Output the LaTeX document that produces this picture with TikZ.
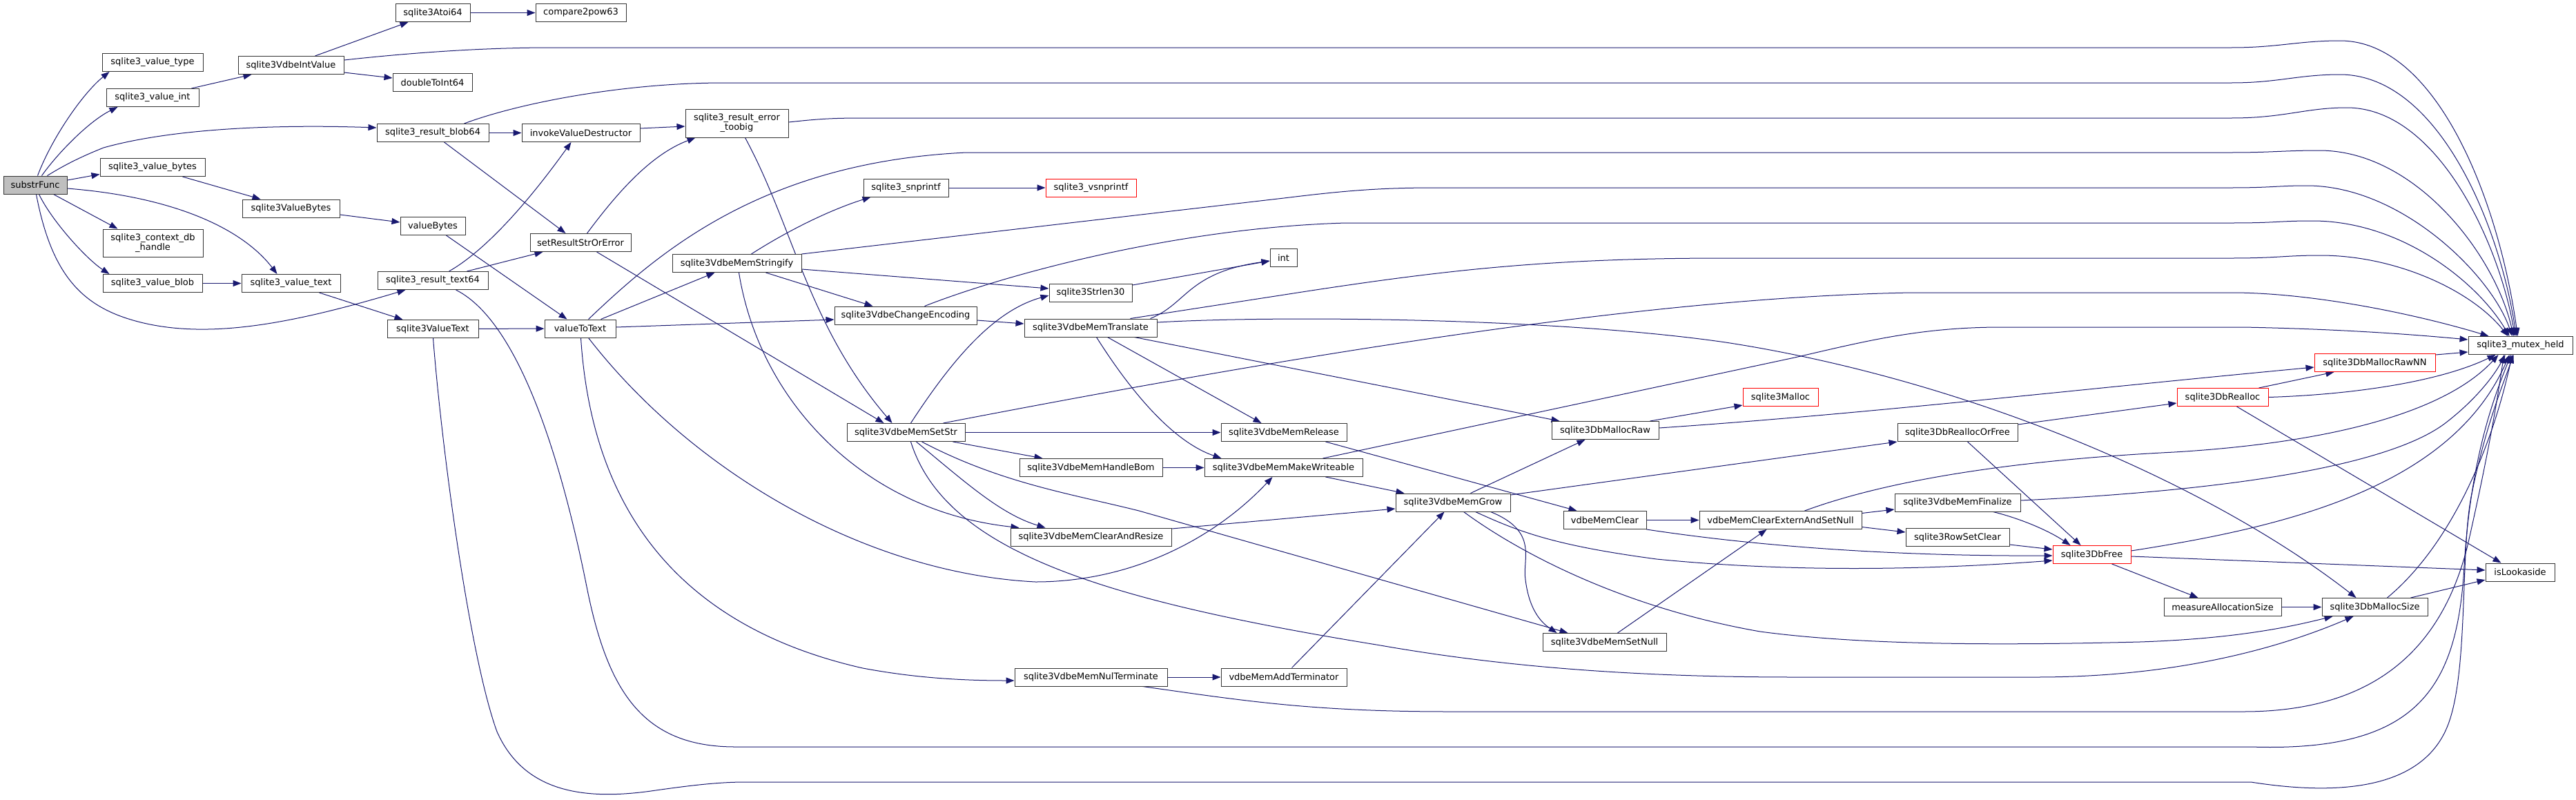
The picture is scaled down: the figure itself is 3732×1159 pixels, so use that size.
\documentclass[tikz,border=0pt]{standalone}
\usepackage{fontspec}
\setmainfont{DejaVu Sans}
\usetikzlibrary{arrows.meta,backgrounds}
\definecolor{navyc}{HTML}{191970}
\definecolor{rootgray}{HTML}{BFBFBF}
\definecolor{trunc}{HTML}{FF0000}
\definecolor{boxline}{HTML}{333333}
\tikzset{
 nbox/.style={draw=boxline, line width=1pt, fill=white, inner sep=0pt, minimum height=26, font=\fontsize{13}{14}\selectfont, align=center},
 redbox/.style={nbox, draw=trunc},
 rootbox/.style={nbox, fill=rootgray},
 conn/.style={draw=navyc, line width=1pt, -{Triangle[length=12pt,width=9pt]}},
}
\begin{document}
\begin{tikzpicture}[x=1pt,y=-1pt]
\useasboundingbox (0,0) rectangle (3732,1159);
% nodes
\node[rootbox, minimum width=92] (sf) at (51,268) {substrFunc};
\node[nbox, minimum width=146] (vtype) at (221,90.5) {sqlite3\_value\_type};
\node[nbox, minimum width=134] (vint) at (221,141.5) {sqlite3\_value\_int};
\node[nbox, minimum width=153] (intval) at (421.5,94.5) {sqlite3VdbeIntValue};
\node[nbox, minimum width=108] (atoi) at (627,18.5) {sqlite3Atoi64};
\node[nbox, minimum width=131] (cmp) at (841.5,18.5) {compare2pow63};
\node[nbox, minimum width=115] (dbl) at (626.5,119.5) {doubleToInt64};
\node[nbox, minimum width=162] (blob64) at (627,192.5) {sqlite3\_result\_blob64};
\node[nbox, minimum width=171] (ivd) at (841.5,192.5) {invokeValueDestructor};
\node[nbox, minimum width=149, minimum height=41] (toobig) at (1067.5,178.5) {sqlite3\_result\_error\\\_toobig};
\node[nbox, minimum width=152] (vbytes) at (221,242.5) {sqlite3\_value\_bytes};
\node[nbox, minimum width=141] (VBytes) at (421.5,302) {sqlite3ValueBytes};
\node[nbox, minimum width=94] (valueBytes) at (627,327.5) {valueBytes};
\node[nbox, minimum width=145, minimum height=40] (ctxdb) at (221.5,352) {sqlite3\_context\_db\\\_handle};
\node[nbox, minimum width=144] (vblob) at (221,410.5) {sqlite3\_value\_blob};
\node[nbox, minimum width=143] (vtext) at (421.5,410.5) {sqlite3\_value\_text};
\node[nbox, minimum width=160] (text64) at (627,406.5) {sqlite3\_result\_text64};
\node[nbox, minimum width=132] (VText) at (627,476.5) {sqlite3ValueText};
\node[nbox, minimum width=146] (srse) at (841,351.5) {setResultStrOrError};
\node[nbox, minimum width=103] (v2t) at (840.5,476) {valueToText};
\node[nbox, minimum width=187] (strfy) at (1067.5,381.5) {sqlite3VdbeMemStringify};
\node[nbox, minimum width=123] (snp) at (1312.5,272) {sqlite3\_snprintf};
\node[redbox, minimum width=131] (vsnp) at (1580.5,272) {sqlite3\_vsnprintf};
\node[nbox, minimum width=120] (strlen) at (1580,424) {sqlite3Strlen30};
\node[nbox, minimum width=39] (int) at (1859.5,373.5) {int};
\node[nbox, minimum width=206] (chenc) at (1312,457) {sqlite3VdbeChangeEncoding};
\node[nbox, minimum width=192] (trans) at (1580,475) {sqlite3VdbeMemTranslate};
\node[nbox, minimum width=171] (setstr) at (1312.5,626.5) {sqlite3VdbeMemSetStr};
\node[nbox, minimum width=182] (release) at (1860,626.5) {sqlite3VdbeMemRelease};
\node[nbox, minimum width=207] (bom) at (1580.5,677.5) {sqlite3VdbeMemHandleBom};
\node[nbox, minimum width=229] (mkw) at (1859.5,677.5) {sqlite3VdbeMemMakeWriteable};
\node[nbox, minimum width=233] (clr) at (1580.5,778) {sqlite3VdbeMemClearAndResize};
\node[nbox, minimum width=221] (nul) at (1580.5,981) {sqlite3VdbeMemNulTerminate};
\node[nbox, minimum width=182] (addt) at (1860,981) {vdbeMemAddTerminator};
\node[nbox, minimum width=155] (mraw) at (2325.5,623.5) {sqlite3DbMallocRaw};
\node[redbox, minimum width=109] (malloc) at (2579.5,575.5) {sqlite3Malloc};
\node[nbox, minimum width=166] (grow) at (2105,728) {sqlite3VdbeMemGrow};
\node[nbox, minimum width=120] (mclear) at (2325,753.5) {vdbeMemClear};
\node[nbox, minimum width=235] (extnull) at (2579.5,753.5) {vdbeMemClearExternAndSetNull};
\node[nbox, minimum width=179] (setnull) at (2324.5,930.5) {sqlite3VdbeMemSetNull};
\node[nbox, minimum width=174] (reof) at (2836,626.5) {sqlite3DbReallocOrFree};
\node[nbox, minimum width=182] (final) at (2836,728) {sqlite3VdbeMemFinalize};
\node[nbox, minimum width=150] (rowset) at (2836,778.5) {sqlite3RowSetClear};
\node[redbox, minimum width=113] (free) at (3030.5,803.5) {sqlite3DbFree};
\node[redbox, minimum width=132] (realloc) at (3220,575.5) {sqlite3DbRealloc};
\node[redbox, minimum width=175] (rawnn) at (3440.5,525.5) {sqlite3DbMallocRawNN};
\node[nbox, minimum width=151] (mutex) at (3651.5,500.5) {sqlite3\_mutex\_held};
\node[nbox, minimum width=100] (lookaside) at (3651,829) {isLookaside};
\node[nbox, minimum width=170] (measure) at (3220,879.5) {measureAllocationSize};
\node[nbox, minimum width=153] (msize) at (3440.5,879.5) {sqlite3DbMallocSize};
% connectors
\begin{scope}[on background layer]
\fill[white] (0,0) rectangle (3732,1159);
\draw[conn] ([xshift=50]sf.north west) .. controls (75,200) and (120,135) .. ([xshift=11]vtype.south west);
\draw[conn] ([xshift=56]sf.north west) .. controls (85,220) and (130,175) .. ([xshift=17]vint.south west);
\draw[conn] ([xshift=64]sf.north west) .. controls (95,238) and (120,226) .. (150,214) .. controls (250,186) and (400,180) .. ([yshift=7.5]blob64.west);
\draw[conn] ([yshift=7]sf.east) -- ([yshift=-10]vbytes.west);
\draw[conn] ([yshift=-5]sf.east) .. controls (250,285) and (350,330) .. ([xshift=52]vtext.north west);
\draw[conn] ([xshift=73]sf.south west) -- ([xshift=22]ctxdb.north west);
\draw[conn] ([xshift=52]sf.south west) .. controls (75,320) and (125,375) .. ([xshift=10]vblob.north west);
\draw[conn] ([xshift=48]sf.south west) .. controls (75,400) and (120,445) .. (200,466) .. controls (300,492) and (420,470) .. ([xshift=41]text64.south west);
\draw[conn] ([xshift=124]vint.north west) -- ([xshift=20]intval.south west);
\draw[conn] ([xshift=112]intval.north west) -- ([xshift=19]atoi.south west);
\draw[conn] ([yshift=-10.5]intval.east) -- ([yshift=6.5]dbl.west);
\draw[conn] ([yshift=7.5]intval.east) .. controls (600,76) and (700,69) .. (800,69) -- (3233,69) .. controls (3300,69) and (3330,59) .. (3390,59) .. controls (3530,59) and (3620,290) .. ([xshift=72]mutex.north west);
\draw[conn] (atoi) -- (cmp);
\draw[conn] (blob64) -- (ivd);
\draw[conn] ([xshift=98]blob64.south west) -- ([xshift=52]srse.north west);
\draw[conn] ([xshift=127]blob64.north west) .. controls (750,150) and (900,120) .. (1050,120) -- (3233,120) .. controls (3300,120) and (3330,108) .. (3390,108) .. controls (3530,108) and (3620,320) .. ([xshift=70]mutex.north west);
\draw[conn] ([yshift=6.5]ivd.east) -- ([yshift=-4.5]toobig.west);
\draw[conn] ([yshift=1.5]toobig.east) .. controls (1180,173) and (1200,171) .. (1250,171) -- (3233,171) .. controls (3310,171) and (3340,156) .. (3400,156) .. controls (3530,156) and (3620,350) .. ([xshift=68]mutex.north west);
\draw[conn] ([xshift=87]toobig.south west) .. controls (1150,330) and (1170,470) .. ([xshift=66]setstr.north west);
\draw[conn] ([xshift=120]vbytes.south west) -- ([xshift=27]VBytes.north west);
\draw[conn] ([yshift=-9]VBytes.east) -- ([yshift=5.5]valueBytes.west);
\draw[conn] ([xshift=67]valueBytes.south west) -- ([xshift=33]v2t.north west);
\draw[conn] (vblob) -- (vtext);
\draw[conn] ([xshift=113]vtext.south west) -- ([xshift=23]VText.north west);
\draw[conn] ([xshift=104]text64.north west) .. controls (700,365) and (760,300) .. ([xshift=72]ivd.south west);
\draw[conn] ([xshift=130]text64.north west) -- ([xshift=19]srse.south west);
\draw[conn] ([xshift=114]text64.south west) .. controls (760,470) and (820,700) .. (850,850) .. controls (880,1000) and (930,1082) .. (1065,1082) -- (3261,1082) .. controls (3500,1090) and (3560,1000) .. (3570,820) .. controls (3580,650) and (3620,560) .. ([xshift=62]mutex.south west);
\draw[conn] (VText) -- (v2t);
\draw[conn] ([xshift=67]VText.south west) .. controls (640,650) and (680,950) .. (720,1060) .. controls (760,1150) and (850,1160) .. (950,1145) .. controls (1000,1138) and (1040,1133) .. (1080,1133) -- (3261,1133) .. controls (3400,1155) and (3520,1140) .. (3550,1040) .. controls (3575,960) and (3565,800) .. (3580,720) .. controls (3600,620) and (3625,560) .. ([xshift=66]mutex.south west);
\draw[conn] ([xshift=83]srse.north west) .. controls (890,285) and (940,225) .. ([xshift=15]toobig.south west);
\draw[conn] ([xshift=97]srse.south west) -- ([xshift=54]setstr.north west);
\draw[conn] ([xshift=82]v2t.north west) -- ([xshift=62]strfy.south west);
\draw[conn] ([yshift=2]v2t.east) -- ([yshift=-6]chenc.west);
\draw[conn] ([xshift=64]v2t.north west) .. controls (950,370) and (1100,235) .. (1400,221) -- (3233,221) .. controls (3290,221) and (3310,218) .. (3360,218) .. controls (3500,218) and (3615,370) .. ([xshift=66]mutex.north west);
\draw[conn] ([xshift=115]strfy.north west) .. controls (1140,335) and (1200,305) .. ([xshift=11]snp.south west);
\draw[conn] ([yshift=13.5]strfy.east) -- (1860,287) .. controls (1950,276) and (2000,272) .. (2080,272) -- (3233,272) .. controls (3290,272) and (3300,269) .. (3342,269) .. controls (3480,269) and (3610,400) .. ([xshift=64]mutex.north west);
\draw[conn] ([yshift=-8.5]strfy.east) -- ([yshift=6]strlen.west);
\draw[conn] ([xshift=136]strfy.south west) -- ([xshift=56]chenc.north west);
\draw[conn] ([xshift=97]strfy.south west) .. controls (1100,580) and (1250,740) .. ([xshift=13]clr.north west);
\draw[conn] (snp) -- (vsnp);
\draw[conn] ([yshift=11]strlen.east) -- ([yshift=-4.5]int.west);
\draw[conn] ([yshift=-7]chenc.east) -- ([yshift=6]trans.west);
\draw[conn] ([xshift=131]chenc.north west) .. controls (1450,400) and (1700,330) .. (1950,323) -- (3233,323) .. controls (3300,323) and (3300,320) .. (3350,320) .. controls (3480,320) and (3590,410) .. ([xshift=60]mutex.north west);
\draw[conn] ([xshift=183]trans.north west) .. controls (1720,440) and (1720,395) .. ([yshift=-4.5]int.west);
\draw[conn] ([xshift=154]trans.north west) -- (1880,424) .. controls (2100,390) and (2250,374) .. (2500,374) -- (3233,374) .. controls (3300,374) and (3310,370) .. (3362,370) .. controls (3470,370) and (3580,420) .. ([xshift=58]mutex.north west);
\draw[conn] ([yshift=8]trans.east) .. controls (1850,457) and (2250,460) .. (2500,496) .. controls (2850,550) and (3200,700) .. ([xshift=50]msize.north west);
\draw[conn] ([xshift=160]trans.south west) -- ([xshift=12]mraw.north west);
\draw[conn] ([xshift=121]trans.south west) -- ([xshift=59]release.north west);
\draw[conn] ([xshift=105]trans.south west) .. controls (1640,570) and (1700,640) .. ([xshift=25]mkw.north west);
\draw[conn] (setstr) -- (release);
\draw[conn] ([xshift=154]setstr.south west) -- ([xshift=34]bom.north west);
\draw[conn] (bom) -- (mkw);
\draw[conn] ([xshift=101]setstr.south west) .. controls (1400,700) and (1450,745) .. ([xshift=51]clr.north west);
\draw[conn] ([xshift=109]setstr.south west) .. controls (1450,700) and (1550,715) .. (1650,740) -- ([xshift=37]setnull.north west);
\draw[conn] ([xshift=93]setstr.south west) .. controls (1370,800) and (1600,870) .. (2000,935) .. controls (2200,970) and (2400,981) .. (2600,981) -- (2950,981) .. controls (3150,981) and (3300,940) .. ([xshift=46]msize.south west);
\draw[conn] ([xshift=93]setstr.north west) .. controls (1380,520) and (1440,450) .. ([yshift=-4]strlen.west);
\draw[conn] ([xshift=140]setstr.north west) .. controls (1900,510) and (2400,430) .. (2770,424) -- (3233,424) .. controls (3350,424) and (3500,455) .. ([xshift=30]mutex.north west);
\draw[conn] ([xshift=172]mkw.north west) -- (2600,518) .. controls (2700,495) and (2780,474) .. (2900,474) -- (3250,474) .. controls (3400,477) and (3500,485) .. ([yshift=8.5]mutex.west);
\draw[conn] ([xshift=176]mkw.south west) -- ([xshift=13]grow.north west);
\draw[conn] ([xshift=152]release.south west) -- ([xshift=20]mclear.north west);
\draw[conn] ([yshift=12]clr.east) -- ([yshift=-9]grow.west);
\draw[conn] ([xshift=53]v2t.south west) .. controls (855,700) and (950,900) .. (1250,968) .. controls (1330,983) and (1400,986) .. ([yshift=-5]nul.west);
\draw[conn] ([xshift=64]v2t.south west) .. controls (1000,680) and (1250,830) .. (1500,843) .. controls (1640,843) and (1760,780) .. ([xshift=99]mkw.south west);
\draw[conn] (nul) -- (addt);
\draw[conn] ([xshift=186]nul.south west) .. controls (1800,1015) and (1900,1031) .. (2100,1031) -- (3250,1031) .. controls (3450,1031) and (3540,930) .. (3575,790) .. controls (3600,680) and (3615,600) .. ([xshift=52]mutex.south west);
\draw[conn] ([xshift=103]addt.north west) -- ([xshift=71]grow.south west);
\draw[conn] ([xshift=109]grow.north west) -- ([xshift=49]mraw.south west);
\draw[conn] ([yshift=11]grow.east) -- (reof.south west);
\draw[conn] ([xshift=138]grow.south west) .. controls (2230,770) and (2205,810) .. (2210,840) .. controls (2215,880) and (2230,900) .. ([xshift=21]setnull.north west);
\draw[conn] ([xshift=116]grow.south west) .. controls (2200,770) and (2250,790) .. (2400,810) .. controls (2600,830) and (2800,825) .. ([yshift=-8.5]free.west);
\draw[conn] ([xshift=99]grow.south west) .. controls (2200,800) and (2350,880) .. (2550,915) .. controls (2700,935) and (2900,935) .. (3100,930) .. controls (3250,925) and (3330,905) .. ([xshift=16]msize.south west);
\draw[conn] ([xshift=109]setnull.north west) -- ([xshift=98]extnull.south west);
\draw[conn] (mclear) -- (extnull);
\draw[conn] (mclear.south east) .. controls (2550,792) and (2750,806) .. ([yshift=-1.5]free.west);
\draw[conn] ([yshift=10]extnull.east) -- ([yshift=-10]final.west);
\draw[conn] ([yshift=-10]extnull.east) -- ([yshift=7.5]rowset.west);
\draw[conn] ([xshift=153]extnull.north west) .. controls (2750,690) and (2950,665) .. (3150,655) .. controls (3400,640) and (3550,590) .. ([xshift=44]mutex.south west);
\draw[conn] ([xshift=143]final.south west) .. controls (2930,752) and (2970,770) .. ([xshift=26]free.north west);
\draw[conn] ([yshift=3]final.east) .. controls (3200,712) and (3450,680) .. (3540,615) .. controls (3580,585) and (3610,550) .. ([xshift=54]mutex.south west);
\draw[conn] ([yshift=-10.5]rowset.east) -- ([yshift=7.5]free.west);
\draw[conn] ([xshift=102]reof.south west) -- ([xshift=41]free.north west);
\draw[conn] ([yshift=11.5]reof.east) -- ([yshift=-8.5]realloc.west);
\draw[conn] ([yshift=5.5]free.east) .. controls (3300,765) and (3550,710) .. ([xshift=60]mutex.south west);
\draw[conn] ([yshift=-2.5]free.east) -- ([yshift=3]lookaside.west);
\draw[conn] ([xshift=86]free.south west) -- ([xshift=50]measure.north west);
\draw[conn] (measure) -- (msize);
\draw[conn] ([xshift=129]msize.north west) -- ([yshift=-11]lookaside.west);
\draw[conn] ([xshift=95]msize.north west) .. controls (3550,790) and (3610,650) .. ([xshift=64]mutex.south west);
\draw[conn] ([xshift=87]realloc.south west) -- ([xshift=23]lookaside.north west);
\draw[conn] ([xshift=119]realloc.north west) -- ([xshift=29]rawnn.south west);
\draw[conn] (realloc.east) .. controls (3400,572) and (3530,555) .. ([xshift=40]mutex.south west);
\draw[conn] ([yshift=11.5]rawnn.east) -- ([yshift=-9.5]mutex.west);
\draw[conn] ([yshift=3.5]mraw.east) .. controls (2700,600) and (3000,565) .. ([yshift=-6.5]rawnn.west);
\draw[conn] ([xshift=143]mraw.north west) -- ([yshift=2]malloc.south west);
\end{scope}
\end{tikzpicture}
\end{document}
